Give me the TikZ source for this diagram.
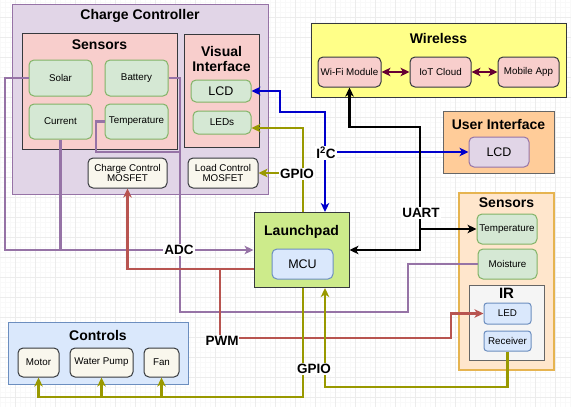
\documentclass[tikz,border=0pt]{standalone}
\usepackage{fontspec}
\setmainfont{Liberation Sans}
\usetikzlibrary{arrows.meta, positioning}

\definecolor{ccfill}{HTML}{E1D5E7}
\definecolor{ccline}{HTML}{9673A6}
\definecolor{redfill}{HTML}{F8CECC}
\definecolor{redline}{HTML}{B85450}
\definecolor{grnfill}{HTML}{D5E8D4}
\definecolor{grnline}{HTML}{82B366}
\definecolor{creamfill}{HTML}{F9F7ED}
\definecolor{darkline}{HTML}{36393D}
\definecolor{yelfill}{HTML}{FFFF88}
\definecolor{orgfill}{HTML}{FFCC99}
\definecolor{peachfill}{HTML}{FFE6CC}
\definecolor{peachline}{HTML}{E6B450}
\definecolor{bluefill}{HTML}{DAE8FC}
\definecolor{blueline}{HTML}{6C8EBF}
\definecolor{greyfill}{HTML}{F5F5F5}
\definecolor{greyline}{HTML}{666666}
\definecolor{limefill}{HTML}{CDEB8B}
\definecolor{oliveline}{HTML}{999900}
\definecolor{i2cblue}{HTML}{0000CC}
\definecolor{wlmaroon}{HTML}{660033}

\begin{document}
\begin{tikzpicture}[x=1pt, y=-1pt, >={Stealth[length=9pt,width=8.5pt,inset=2.5pt]},
    groupbox/.style={draw=darkline, line width=1pt, inner sep=0pt},
    ttl/.style={anchor=center, font=\bfseries\fontsize{14}{15}\selectfont},
    itembox/.style={draw=darkline, line width=1pt, rounded corners=5pt, inner sep=1pt,
      font=\fontsize{9.8}{10.7}\selectfont, minimum width=63pt, minimum height=30pt},
    sensor/.style={itembox, draw=grnline, fill=grnfill},
    device/.style={itembox, fill=creamfill},
    cloudbox/.style={itembox, fill=redfill},
    chip/.style={itembox, draw=blueline, fill=bluefill},
    wire/.style={line width=2.3pt},
    adcwire/.style={wire, draw=ccline},
    pwmwire/.style={wire, draw=redline},
    gpiowire/.style={wire, draw=oliveline},
    i2cwire/.style={wire, draw=i2cblue},
    uartwire/.style={wire, draw=black},
    buswire/.style={wire, draw=wlmaroon},
    tag/.style={fill=white, inner sep=1pt, font=\bfseries\fontsize{13.5}{15}\selectfont},
  ]
  \useasboundingbox (0,0) rectangle (571,407);
  \fill[white] (0,0) rectangle (571,407);
  \foreach \gx in {0,5,...,570} \draw[gray!5, line width=0.5pt] (\gx,0) -- (\gx,407);
  \foreach \gy in {2,7,...,407} \draw[gray!5, line width=0.5pt] (0,\gy) -- (571,\gy);
  \foreach \gx in {15,35,...,570} \draw[gray!15, line width=0.7pt] (\gx,0) -- (\gx,407);
  \foreach \gy in {17,37,...,400} \draw[gray!15, line width=0.7pt] (0,\gy) -- (571,\gy);

  % charge controller
  \node[groupbox, draw=ccline, fill=ccfill, minimum width=256pt, minimum height=190pt,
    label={[ttl,yshift=-12pt]north:Charge Controller}] (cc) at (140,99) {};
  \node[groupbox, fill=redfill, minimum width=155pt, minimum height=116pt,
    label={[ttl,yshift=-12pt]north:Sensors}] (sensA) at (99.5,91) {};
  \node[sensor, minimum height=36pt] (solar) at (60.5,78) {Solar};
  \node[sensor, minimum height=36pt] (battery) at (136.5,78) {Battery};
  \node[sensor, minimum height=35pt] (current) at (60.5,121.5) {Current};
  \node[sensor, minimum height=35pt] (tempA) at (136.5,121.5) {Temperature};
  \node[groupbox, fill=redfill, minimum width=75pt, minimum height=113pt,
    label={[ttl,align=center,yshift=-25.5pt]north:Visual\\Interface}] (vis) at (221.5,90.5) {};
  \node[sensor, minimum width=60pt, minimum height=22pt, font=\fontsize{12.5}{14}\selectfont] (lcdA) at (221,91) {LCD};
  \node[sensor, minimum width=58pt, minimum height=23pt, font=\fontsize{10}{12}\selectfont] (leds) at (222,122.5) {LEDs};
  \node[device, minimum width=79pt, align=center] (ccm) at (127.5,173) {Charge Control\\MOSFET};
  \node[device, minimum width=70pt, align=center] (lcm) at (223,173) {Load Control\\MOSFET};

  % wireless
  \node[groupbox, fill=yelfill, minimum width=255pt, minimum height=74pt,
    label={[ttl,yshift=-16pt]north:Wireless}] (wless) at (438.5,60) {};
  \node[cloudbox] (wifi) at (349.5,72) {Wi-Fi Module};
  \node[cloudbox, minimum width=61pt] (iot) at (440.5,72) {IoT Cloud};
  \node[cloudbox, minimum width=61pt] (app) at (528.5,72) {Mobile App};

  % user interface
  \node[groupbox, draw=greyline, fill=orgfill, minimum width=111pt, minimum height=62pt,
    label={[ttl,yshift=-14pt]north:User Interface}] (ui) at (498.5,142) {};
  \node[itembox, draw=ccline, fill=ccfill, minimum width=60pt, font=\fontsize{12.5}{14}\selectfont] (lcdB) at (499,152) {LCD};

  % launchpad
  \node[groupbox, fill=limefill, minimum width=95pt, minimum height=75pt,
    label={[ttl,yshift=-20pt]north:Launchpad}] (launch) at (301.5,250) {};
  \node[chip, minimum width=61pt, font=\fontsize{12.5}{14}\selectfont] (mcu) at (302.5,264) {MCU};

  % field sensors
  \node[groupbox, draw=peachline, line width=1.5pt, fill=peachfill, minimum width=95pt, minimum height=177pt,
    label={[ttl,yshift=-10pt]north:Sensors}] (sensB) at (506.5,281.5) {};
  \node[sensor, minimum width=60pt] (tempB) at (507,229) {Temperature};
  \node[sensor, minimum width=59pt] (moist) at (507.5,264) {Moisture};
  \node[groupbox, draw=greyline, fill=greyfill, minimum width=75pt, minimum height=75pt,
    label={[ttl,font=\bfseries\fontsize{15}{16}\selectfont,yshift=-9pt]north:IR}] (ir) at (506.5,322.5) {};
  \node[chip, minimum width=47pt, minimum height=21pt, rounded corners=3pt] (led) at (507.5,313.5) {LED};
  \node[chip, minimum width=47pt, minimum height=20pt, rounded corners=3pt] (recv) at (507.5,341) {Receiver};

  % controls
  \node[groupbox, draw=blueline, fill=bluefill, minimum width=180pt, minimum height=62pt,
    label={[ttl,yshift=-14pt]north:Controls}] (ctrl) at (98,353) {};
  \node[device, minimum width=41pt, minimum height=29pt] (motor) at (38.5,362.5) {Motor};
  \node[device, minimum width=63pt, minimum height=29pt] (pump) at (101.5,362.5) {Water Pump};
  \node[device, minimum width=35pt, minimum height=29pt] (fan) at (161.5,362.5) {Fan};

  \coordinate (adcpt) at (179,250);
  \coordinate (pwmpt) at (220,269);
  \coordinate (gpiotop) at (303,173);
  \coordinate (ctrlbus) at (303,397);
  \coordinate (recvbus) at (325,387);
  \coordinate (i2cpt) at (325,152);
  \coordinate (uartpt) at (420,213);
  \coordinate (uartbend) at (420,127);

  \draw[adcwire,->] (solar.west) -| (5,250) -- (launch.west);
  \draw[adcwire] (current.south) -- (current.south |- adcpt);
  \draw[adcwire] (battery.east) -| (180,312) -- (408,312) |- (moist.west);
  \draw[adcwire] (tempA.west) -| (96,152) -- (180,152);

  \draw[pwmwire,->] (launch.west |- pwmpt) -| (ccm.south);
  \draw[pwmwire,->] (pwmpt) |- (451,338) |- (led.west);

  \draw[gpiowire,->] (gpiotop |- launch.north) |- ([yshift=-5.5pt]leds.east);
  \draw[gpiowire,->] (gpiotop) -- (lcm.east);
  \draw[gpiowire,->] (gpiotop |- launch.south) -- (ctrlbus) -| (motor.south);
  \draw[gpiowire,->] (pump.south |- ctrlbus) -- (pump.south);
  \draw[gpiowire,->] (fan.south |- ctrlbus) -- (fan.south);
  \draw[gpiowire,->] (recv.south) |- (recvbus) -- (recvbus |- launch.south);

  \draw[i2cwire,<->] (lcdA.east) -| (280,112) -| (i2cpt |- launch.north);
  \draw[i2cwire,->] (i2cpt) -- (lcdB.west);

  \draw[uartwire,<->] (wifi.south) |- (uartbend) |- (launch.east);
  \draw[uartwire,->] (uartpt |- tempB.west) -- (tempB.west);

  \draw[buswire,<->] (wifi) -- (iot);
  \draw[buswire,<->] (iot) -- (app);

  \node[tag] (adclbl) at (179,250) {ADC};
  \node[tag] (pwmlbl) at (222,341) {PWM};
  \node[tag] (gpiolblA) at (297,174) {GPIO};
  \node[tag] (gpiolblB) at (314,369) {GPIO};
  \node[tag] (i2clbl) at (326,153) {I\textsuperscript{2}C};
  \node[tag] (uartlbl) at (421,213) {UART};
\end{tikzpicture}
\end{document}
